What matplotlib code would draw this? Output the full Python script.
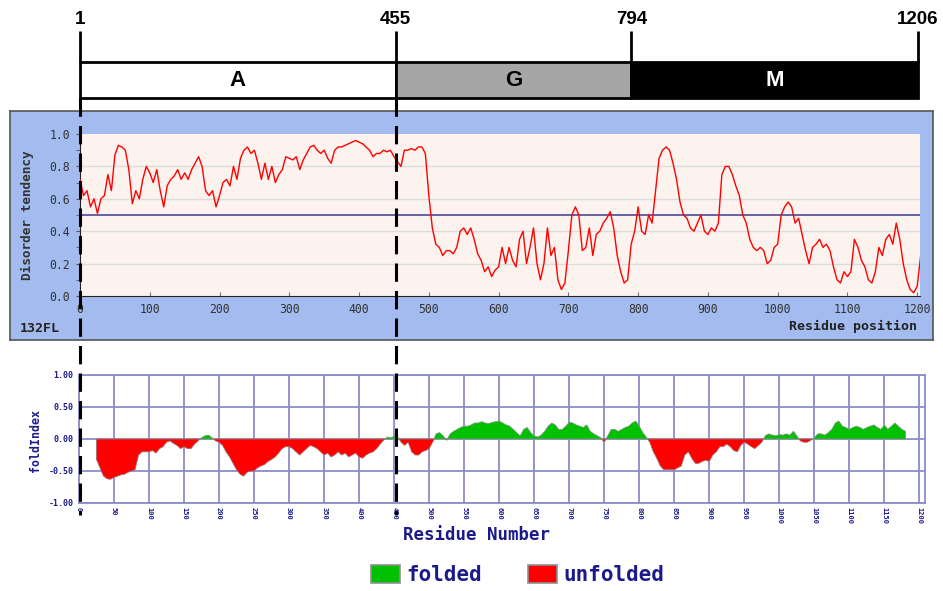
import numpy as np
import matplotlib
matplotlib.use('Agg')
import matplotlib.pyplot as plt
from matplotlib.patches import Patch

# domain map on top
domain_names = ['A', 'G', 'M']
domain_start = [1, 455, 794]
domain_end = [455, 794, 1206]
domain_colors = ['white', '#a6a6a6', 'black']
domain_text_colors = ['black', 'black', 'white']
boundary_labels = [1, 455, 794, 1206]

# disorder tendency (every 5 residues, 0..1205)
disorder_pos = list(range(0, 1210, 5))
disorder_val = [
    0.72, 0.62, 0.65, 0.55, 0.60, 0.51, 0.60, 0.62, 0.75, 0.65,
    0.87, 0.93, 0.92, 0.90, 0.78, 0.57, 0.65, 0.60, 0.72, 0.80,
    0.76, 0.70, 0.78, 0.65, 0.55, 0.68, 0.72, 0.74, 0.78, 0.72,
    0.76, 0.72, 0.78, 0.82, 0.86, 0.80, 0.65, 0.62, 0.65, 0.55,
    0.62, 0.70, 0.72, 0.68, 0.80, 0.72, 0.85, 0.90, 0.92, 0.88,
    0.90, 0.82, 0.72, 0.82, 0.72, 0.80, 0.70, 0.75, 0.78, 0.86,
    0.85, 0.84, 0.86, 0.78, 0.84, 0.88, 0.92, 0.93, 0.90, 0.88,
    0.90, 0.85, 0.82, 0.90, 0.92, 0.92, 0.93, 0.94, 0.95, 0.96,
    0.95, 0.94, 0.92, 0.90, 0.86, 0.88, 0.88, 0.90, 0.89, 0.90,
    0.86, 0.83, 0.80, 0.90, 0.90, 0.91, 0.90, 0.92, 0.92, 0.88,
    0.62, 0.42, 0.32, 0.30, 0.25, 0.28, 0.28, 0.26, 0.30, 0.40,
    0.42, 0.38, 0.42, 0.35, 0.26, 0.22, 0.15, 0.18, 0.12, 0.16,
    0.18, 0.30, 0.20, 0.30, 0.22, 0.18, 0.35, 0.40, 0.20, 0.30,
    0.42, 0.20, 0.10, 0.20, 0.42, 0.25, 0.30, 0.10, 0.04, 0.08,
    0.28, 0.50, 0.55, 0.50, 0.28, 0.30, 0.42, 0.25, 0.38, 0.40,
    0.45, 0.48, 0.52, 0.42, 0.25, 0.15, 0.08, 0.10, 0.32, 0.40,
    0.55, 0.40, 0.38, 0.50, 0.45, 0.65, 0.85, 0.90, 0.92, 0.90,
    0.82, 0.72, 0.58, 0.50, 0.48, 0.42, 0.40, 0.45, 0.50, 0.40,
    0.38, 0.42, 0.40, 0.45, 0.75, 0.80, 0.80, 0.75, 0.68, 0.62,
    0.50, 0.45, 0.35, 0.30, 0.28, 0.30, 0.28, 0.20, 0.22, 0.30,
    0.32, 0.50, 0.55, 0.58, 0.55, 0.45, 0.48, 0.38, 0.28, 0.20,
    0.30, 0.32, 0.35, 0.30, 0.32, 0.28, 0.18, 0.10, 0.08, 0.15,
    0.12, 0.15, 0.35, 0.30, 0.22, 0.18, 0.10, 0.08, 0.15, 0.30,
    0.25, 0.35, 0.38, 0.32, 0.45, 0.35, 0.20, 0.10, 0.04, 0.02,
    0.06, 0.25,
]

# foldIndex (every 5 residues, 25..1180)
fold_pos = list(range(25, 1185, 5))
fold_val = [
    -0.32, -0.45, -0.58, -0.62, -0.63, -0.60, -0.58, -0.56, -0.55, -0.52,
    -0.50, -0.48, -0.25, -0.20, -0.20, -0.20, -0.18, -0.22, -0.15, -0.12,
    -0.05, -0.03, -0.07, -0.10, -0.15, -0.12, -0.15, -0.15, -0.08, -0.03,
    0.02, 0.05, 0.06, 0.02, -0.03, -0.05, -0.10, -0.20, -0.28, -0.38,
    -0.48, -0.55, -0.58, -0.52, -0.50, -0.50, -0.45, -0.42, -0.40, -0.35,
    -0.32, -0.28, -0.22, -0.15, -0.12, -0.12, -0.15, -0.20, -0.25, -0.20,
    -0.15, -0.10, -0.12, -0.15, -0.20, -0.25, -0.22, -0.28, -0.25, -0.20,
    -0.25, -0.22, -0.28, -0.25, -0.22, -0.28, -0.30, -0.25, -0.22, -0.20,
    -0.15, -0.08, -0.02, 0.03, 0.02, 0.04, 0.03, -0.05, -0.10, -0.05,
    -0.20, -0.25, -0.25, -0.20, -0.18, -0.15, -0.05, 0.08, 0.10, 0.05,
    -0.02, 0.08, 0.12, 0.15, 0.18, 0.20, 0.20, 0.22, 0.25, 0.25,
    0.27, 0.25, 0.24, 0.26, 0.27, 0.28, 0.25, 0.22, 0.20, 0.15,
    0.10, 0.05, 0.15, 0.18, 0.10, 0.05, 0.03, 0.06, 0.12, 0.20,
    0.25, 0.22, 0.15, 0.15, 0.20, 0.26, 0.25, 0.22, 0.20, 0.18,
    0.22, 0.12, 0.08, 0.05, 0.02, -0.05, 0.05, 0.15, 0.15, 0.12,
    0.15, 0.18, 0.20, 0.25, 0.28, 0.20, 0.10, 0.03, -0.05, -0.20,
    -0.30, -0.42, -0.48, -0.48, -0.48, -0.48, -0.45, -0.42, -0.25, -0.20,
    -0.30, -0.38, -0.38, -0.35, -0.33, -0.35, -0.25, -0.20, -0.12, -0.12,
    -0.08, -0.12, -0.18, -0.20, -0.10, -0.05, -0.08, -0.12, -0.15, -0.10,
    -0.05, 0.05, 0.08, 0.06, 0.05, 0.07, 0.06, 0.08, 0.06, 0.12,
    0.05, -0.03, -0.05, -0.05, -0.02, 0.02, 0.08, 0.08, 0.06, 0.10,
    0.15, 0.25, 0.28, 0.20, 0.18, 0.15, 0.18, 0.20, 0.18, 0.15,
    0.18, 0.20, 0.22, 0.18, 0.15, 0.22, 0.15, 0.20, 0.25, 0.20,
    0.15, 0.12,
]

W, H = 943, 591
navy = '#1a1a8c'
grid_blue = '#8c8cc8'
mono = 'DejaVu Sans Mono'
sans = ['Liberation Sans', 'DejaVu Sans']


def box(x0, y0, x1, y1):
    # pixel box (top-left origin) -> figure fraction rect
    return [x0 / W, 1 - y1 / H, (x1 - x0) / W, (y1 - y0) / H]


fig = plt.figure(figsize=(W / 100, H / 100), dpi=100, facecolor='white')

# ---- middle panel: disorder tendency ----
ax_bg = fig.add_axes(box(10, 111, 933, 340))
ax_bg.set_facecolor('#a3bbee')
ax_bg.set_xticks([])
ax_bg.set_yticks([])
for s in ax_bg.spines.values():
    s.set_color('#555555')
    s.set_linewidth(1.2)

ax_dis = fig.add_axes(box(80, 134, 920, 296))
ax_dis.set_facecolor('#fdf3ee')
ax_dis.set_xlim(0, 1204)
ax_dis.set_ylim(0, 1)
for y in [0.2, 0.4, 0.6, 0.8]:
    ax_dis.axhline(y, color='#dcdcdc', lw=1, zorder=1)
ax_dis.axhline(0.5, color='#3a3a8c', lw=1.1, zorder=2)
ax_dis.plot(disorder_pos, disorder_val, color='#ff0000', lw=1, zorder=3)
ax_dis.spines['top'].set_visible(False)
ax_dis.spines['right'].set_visible(False)
ax_dis.spines['left'].set_color('#222222')
ax_dis.spines['bottom'].set_color('#222222')
ax_dis.set_xticks(range(0, 1201, 100))
ax_dis.set_yticks([0, 0.2, 0.4, 0.6, 0.8, 1.0])
ax_dis.set_yticks(np.arange(0.1, 1.0, 0.2), minor=True)
ax_dis.set_yticklabels(['0.0', '0.2', '0.4', '0.6', '0.8', '1.0'])
ax_dis.tick_params(axis='x', direction='in', length=3, color='#777777',
                   labelsize=8.3, labelcolor='#333333', pad=5)
ax_dis.tick_params(axis='y', which='both', direction='out', length=3,
                   color='#555555', labelsize=8.3, labelcolor='#333333', pad=4)
for lab in ax_dis.get_xticklabels() + ax_dis.get_yticklabels():
    lab.set_family(mono)

fig.text(27 / W, 1 - 215 / H, 'Disorder tendency', rotation=90, ha='center',
         va='center', family=mono, fontweight='bold', fontsize=9.2, color='#333333')
fig.text(917 / W, 1 - 326 / H, 'Residue position', ha='right', va='center',
         family=mono, fontweight='bold', fontsize=9.5, color='#222222')
fig.text(20 / W, 1 - 328 / H, '132FL', ha='left', va='center',
         family=mono, fontweight='bold', fontsize=9.5, color='#222222')

# ---- bottom panel: foldIndex ----
ax_fold = fig.add_axes(box(79, 375, 925, 503))
ax_fold.set_xlim(0, 1208)
ax_fold.set_ylim(-1, 1)
fx = np.array(fold_pos)
fy = np.array(fold_val)
ax_fold.fill_between(fx, fy, 0, where=fy >= 0, interpolate=True,
                     color='#00c000', lw=0.6, edgecolor='#7a9a7a', zorder=3)
ax_fold.fill_between(fx, fy, 0, where=fy <= 0, interpolate=True,
                     color='#ff0000', lw=0.6, edgecolor='#a07070', zorder=3)
ax_fold.set_xticks(range(0, 1201, 50))
ax_fold.set_xticklabels([str(v) for v in range(0, 1201, 50)], rotation=-90)
ax_fold.set_yticks([-1, -0.5, 0, 0.5, 1])
ax_fold.set_yticklabels(['-1.00', '-0.50', '0.00', '0.50', '1.00'])
ax_fold.grid(True, color=grid_blue, lw=1.3, zorder=1)
ax_fold.set_axisbelow(True)
for s in ax_fold.spines.values():
    s.set_color(grid_blue)
    s.set_linewidth(1.3)
ax_fold.tick_params(axis='x', length=0, labelsize=5, labelcolor=navy, pad=3)
ax_fold.tick_params(axis='y', length=0, labelsize=6, labelcolor=navy, pad=4)
for lab in ax_fold.get_xticklabels() + ax_fold.get_yticklabels():
    lab.set_family(mono)
    lab.set_fontweight('bold')

fig.text(36 / W, 1 - 440 / H, 'foldIndex', rotation=90, ha='center', va='center',
         family=mono, fontweight='bold', fontsize=8.4, color=navy)
fig.text(476 / W, 1 - 535 / H, 'Residue Number', ha='center', va='center',
         family=mono, fontweight='bold', fontsize=12.5, color=navy)

handles = [Patch(facecolor='#00c000', edgecolor='#909090', lw=1.2),
           Patch(facecolor='#ff0000', edgecolor='#909090', lw=1.2)]
leg = fig.legend(handles, ['folded', 'unfolded'], ncol=2, frameon=False,
                 loc='center', bbox_to_anchor=(518 / W, 1 - 575 / H),
                 prop={'family': mono, 'weight': 'bold', 'size': 15},
                 labelcolor=navy, handlelength=1.4, handleheight=1.0,
                 handletextpad=0.3, columnspacing=2.2)

# ---- top: domain map + dashed boundary lines ----
ax_dom = fig.add_axes(box(80, 62, 918, 98), zorder=5)
ax_dom.patch.set_visible(False)
ax_dom.set_xlim(1, 1206)
ax_dom.set_ylim(0, 1)
ax_dom.axis('off')
for name, s, e, c, tc in zip(domain_names, domain_start, domain_end,
                             domain_colors, domain_text_colors):
    ax_dom.barh(0.5, e - s, left=s, height=1, color=c, edgecolor='black',
                lw=2, clip_on=False)
    ax_dom.text((s + e) / 2, 0.5, name, ha='center', va='center', color=tc,
                fontsize=16, fontweight='bold', family=sans)
ax_dom.vlines(boundary_labels, 1, 1.85, color='black', lw=2, clip_on=False)
for b in boundary_labels:
    ax_dom.text(b, 1.95, str(b), ha='center', va='bottom', fontsize=13.5,
                fontweight='bold', family=sans, color='black')
ax_dom.vlines(domain_start[:2], 0, -(515 - 98) / 36, color='black', lw=2.2,
              linestyles=(0, (6, 3)), clip_on=False)

fig.savefig('out.png', dpi=100, facecolor='white')
